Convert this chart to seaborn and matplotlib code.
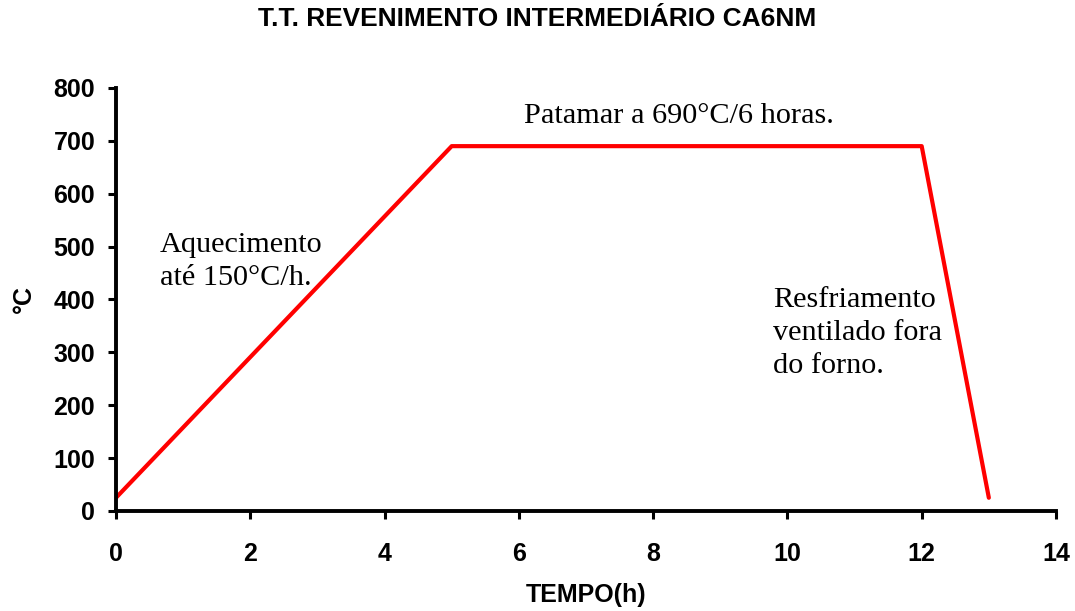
import matplotlib
import matplotlib.pyplot as plt
import pandas as pd
import seaborn as sns

matplotlib.use("Agg")

# Heat treatment cycle (time in hours, temperature in °C)
tempo = [0, 5, 12, 13]
temperatura = [25, 690, 690, 25]

x_ticks = [0, 2, 4, 6, 8, 10, 12, 14]
y_ticks = [0, 100, 200, 300, 400, 500, 600, 700, 800]

df = pd.DataFrame({"tempo": tempo, "temperatura": temperatura})

sns.set_style("white")
plt.rcParams["font.family"] = ["Liberation Sans", "DejaVu Sans"]
plt.rcParams["text.color"] = "black"
plt.rcParams["axes.labelcolor"] = "black"
plt.rcParams["xtick.color"] = "black"
plt.rcParams["ytick.color"] = "black"

fig = plt.figure(figsize=(10.75, 6.11), dpi=100)
ax = fig.add_axes([0.1079, 0.1637, 0.8744, 0.6923])

sns.lineplot(data=df, x="tempo", y="temperatura", color="#ff0000", linewidth=3, ax=ax)

ax.set_xlim(0, 14)
ax.set_ylim(0, 800)
ax.set_xticks(x_ticks)
ax.set_yticks(y_ticks)
ax.tick_params(axis="both", bottom=True, left=True, direction="out", length=6,
               width=2.2, colors="black", labelsize=18)
ax.tick_params(axis="x", pad=16)
ax.tick_params(axis="y", pad=9)
for lbl in ax.get_xticklabels() + ax.get_yticklabels():
    lbl.set_fontweight("bold")

sns.despine(ax=ax)
for side in ["left", "bottom"]:
    ax.spines[side].set_linewidth(2.8)
    ax.spines[side].set_color("black")

ax.set_xlabel("TEMPO(h)", fontsize=18, fontweight="bold")
ax.set_ylabel("°C", fontsize=18, fontweight="bold")
ax.xaxis.set_label_coords(0.5, -0.1986)
ax.xaxis.label.set_va("center")
ax.yaxis.set_label_coords(-0.0979, 0.5)
ax.yaxis.label.set_va("center")
fig.suptitle("T.T. REVENIMENTO INTERMEDIÁRIO CA6NM", fontsize=18.9, fontweight="bold",
             x=0.50, y=0.969, va="center")

# annotations (va="baseline" anchors the last line)
serif = ["Liberation Serif", "DejaVu Serif"]
ax.text(6.08, 734, "Patamar a 690°C/6 horas.", family=serif, fontsize=21.8, va="baseline")
ax.text(0.655, 427, "Aquecimento\naté 150°C/h.", family=serif, fontsize=21.8,
        va="baseline", linespacing=1.35)
ax.text(9.785, 261, "Resfriamento\nventilado fora\ndo forno.", family=serif, fontsize=21.8,
        va="baseline", linespacing=1.35)

fig.savefig("out.png", dpi=100)
plt.close(fig)
